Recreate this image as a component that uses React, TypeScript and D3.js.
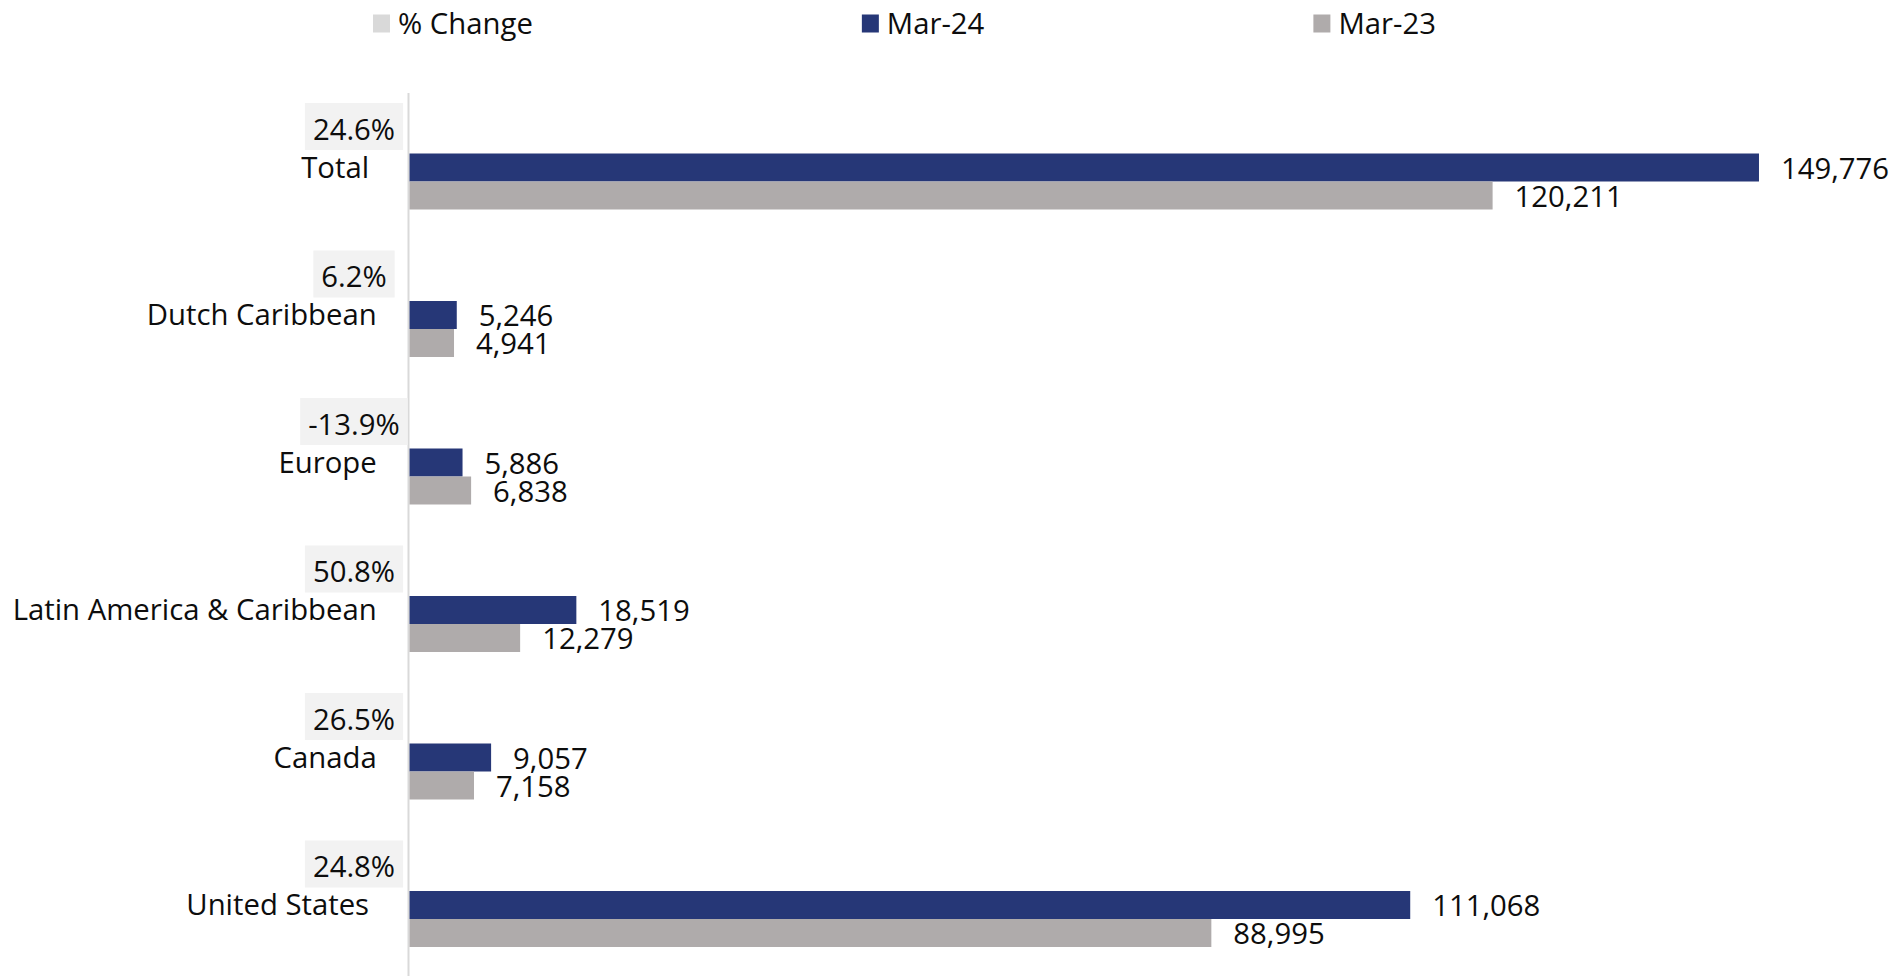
import React from "react";
import * as d3 from "d3";

const categories = ["Total ", "Dutch Caribbean", "Europe", "Latin America & Caribbean", "Canada", "United States "];
const mar24 = [149776, 5246, 5886, 18519, 9057, 111068];
const mar23 = [120211, 4941, 6838, 12279, 7158, 88995];
const pctChange = [24.6, 6.2, -13.9, 50.8, 26.5, 24.8];
const legendLabels = ["% Change", "Mar-24", "Mar-23"];

const W = 1898;
const H = 976;
const FONT = "'Open Sans', sans-serif";
const FS = 29.3;
const BLUE = "#263777";
const GRAY = "#AFABAB";
const LIGHT = "#D9D9D9";
const BOX = "#F2F2F2";

let ctx: CanvasRenderingContext2D | null = null;
function textWidth(s: string): number {
  if (!ctx) {
    const c = document.createElement("canvas");
    ctx = c.getContext("2d");
  }
  if (!ctx) return s.length * FS * 0.55;
  ctx.font = `${FS}px 'Open Sans'`;
  return ctx.measureText(s).width;
}

export default function App() {
  const x = d3.scaleLinear().domain([0, 160000]).range([409.5, 1851.1]);
  const y = d3.scaleBand<string>().domain(categories).range([107.75, 992.75]).padding(0);
  const barH = 28;
  const fmt = d3.format(",");
  const pfmt = (v: number) => v.toFixed(1) + "%";
  const legendColors = [LIGHT, BLUE, GRAY];

  // legend layout: equal gaps between items
  const legendStart = 373;
  const sw = 17;
  const textGap = 25;
  const itemGap = 312;
  let lx = legendStart;
  const legendItems = legendLabels.map((l, i) => {
    const item = { x: lx, label: l, color: legendColors[i] };
    lx += sw + textGap + textWidth(l) + itemGap;
    return item;
  });

  return (
    <svg width={W} height={H} style={{ position: "absolute", left: 0, top: 0, fontFamily: FONT }}>
      <rect x={0} y={0} width={W} height={H} fill="#fff" />
      {legendItems.map((it) => (
        <g key={it.label}>
          <rect x={it.x} y={14.5} width={sw} height={18} fill={it.color} />
          <text x={it.x + sw + 8} y={33.5} fontSize={FS} fill="#0d0d0d">
            {it.label}
          </text>
        </g>
      ))}
      <line x1={408.5} x2={408.5} y1={93} y2={H} stroke={LIGHT} strokeWidth={2} />
      {categories.map((c, i) => {
        const center = (y(c) as number) + y.bandwidth() / 2;
        const label = pfmt(pctChange[i]);
        const tw = textWidth(label);
        const boxW = tw + 16;
        const boxCx = 354;
        const boxCy = center - 55;
        return (
          <g key={c}>
            <rect x={x(0)} y={center - barH} width={x(mar24[i]) - x(0)} height={barH} fill={BLUE} />
            <rect x={x(0)} y={center} width={x(mar23[i]) - x(0)} height={barH} fill={GRAY} />
            <text x={x(mar24[i]) + 22} y={center - barH / 2 + 11} fontSize={FS} fill="#0d0d0d">
              {fmt(mar24[i])}
            </text>
            <text x={x(mar23[i]) + 22} y={center + barH / 2 + 11} fontSize={FS} fill="#0d0d0d">
              {fmt(mar23[i])}
            </text>
            <text
              x={376.7}
              y={center - barH / 2 + 10}
              fontSize={FS}
              fill="#0d0d0d"
              textAnchor="end"
              style={{ whiteSpace: "pre" }}
            >
              {c}
            </text>
            <rect x={boxCx - boxW / 2} y={boxCy - 23.5} width={boxW} height={47} fill={BOX} />
            <text x={boxCx} y={boxCy + 13} fontSize={FS} fill="#0d0d0d" textAnchor="middle">
              {label}
            </text>
          </g>
        );
      })}
    </svg>
  );
}
